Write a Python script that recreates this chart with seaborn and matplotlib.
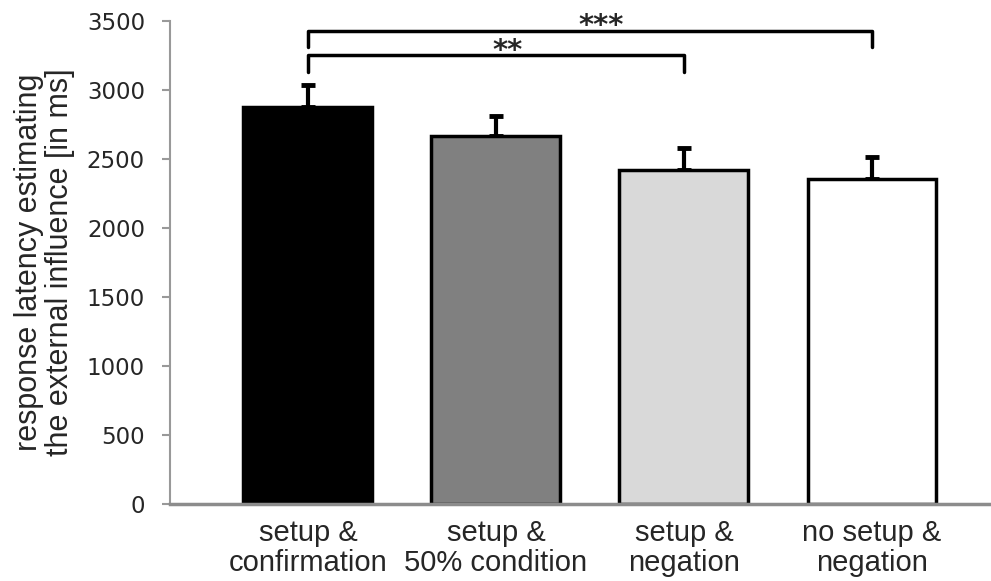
import matplotlib
matplotlib.use("Agg")
import matplotlib.pyplot as plt
import seaborn as sns

# values
conditions = ["setup &\nconfirmation", "setup &\n50% condition", "setup &\nnegation", "no setup &\nnegation"]
latency_ms = [2875, 2665, 2420, 2355]
error_ms = [160, 143, 158, 158]
bar_colors = ["#000000", "#808080", "#d9d9d9", "#ffffff"]

# significance brackets: (left bar, right bar, height, drop, label)
brackets = [(0, 2, 3253, 125, "**"), (0, 3, 3430, 115, "***")]

sns.set_style("white")
fig = plt.figure(figsize=(9.91, 5.81), dpi=100)
ax = fig.add_axes([0.1715, 0.1325, 0.8285, 0.8314])

sns.barplot(x=conditions, y=latency_ms, hue=conditions, palette=bar_colors,
            legend=False, width=0.686, edgecolor="black", linewidth=2.5,
            saturation=1, ax=ax)

# upper error bars only (lower half hidden behind the bars)
ax.errorbar(range(len(conditions)), latency_ms, yerr=[[0] * 4, error_ms],
            fmt="none", ecolor="black", elinewidth=3, capsize=5, capthick=3.5,
            zorder=0.5)

for left, right, h, drop, label in brackets:
    ax.plot([left, left, right, right], [h - drop, h, h, h - drop],
            color="black", lw=2.5, clip_on=False)
    ax.text((left + right) / 2 + 0.06, h - 25, label, ha="center", va="baseline",
            fontsize=21, family="DejaVu Sans", fontweight="bold", clip_on=False)

ax.set_ylim(0, 3500)
ax.set_xlim(-0.734, 3.633)
ax.set_yticks(range(0, 3501, 500))

for side in ["top", "right"]:
    ax.spines[side].set_visible(False)
ax.spines["left"].set_color("#999999")
ax.spines["left"].set_linewidth(1.5)
ax.spines["bottom"].set_color("#8c8c8c")
ax.spines["bottom"].set_linewidth(2.5)

ax.tick_params(axis="y", left=True, length=6, width=1.5, color="#999999",
               pad=12, labelsize=16.5)
ax.tick_params(axis="x", bottom=False, pad=7)
for lab in ax.get_yticklabels():
    lab.set_family("DejaVu Sans")
for lab in ax.get_xticklabels():
    lab.set_family("Liberation Sans")
    lab.set_fontsize(21)
    lab.set_linespacing(1.1)

ax.set_ylabel("response latency estimating\nthe external influence [in ms]",
              fontsize=22, family="Liberation Sans", linespacing=1.05)
ax.yaxis.set_label_coords(-0.116, 0.5)

fig.savefig("out.png", dpi=100)
